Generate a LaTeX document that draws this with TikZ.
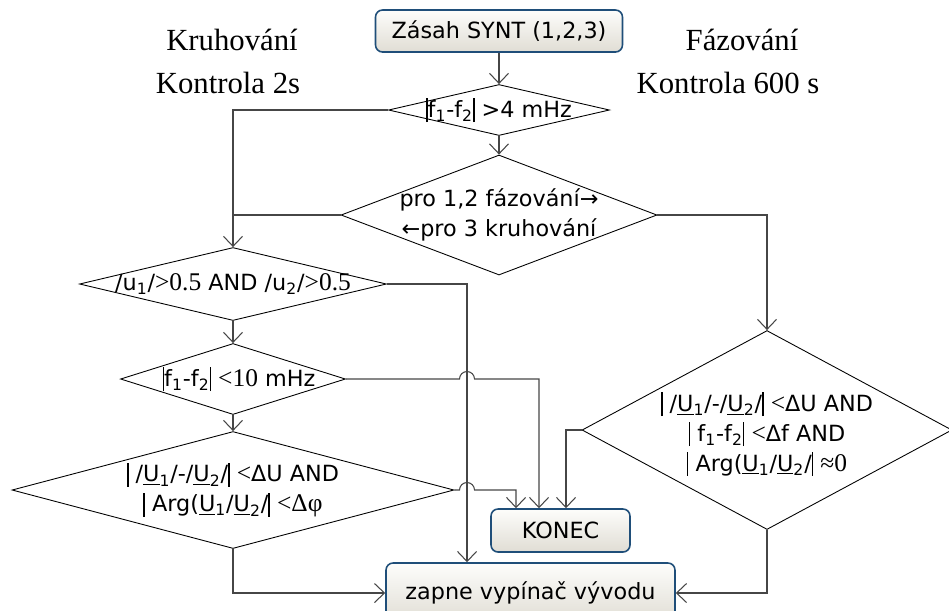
\documentclass[tikz,border=0pt]{standalone}
\usepackage{fontspec}
\setmainfont{DejaVu Sans}
\newfontfamily\tnr{Liberation Serif}
\usetikzlibrary{shapes.geometric,arrows.meta,calc}
\definecolor{boxblue}{RGB}{31,78,121}
\definecolor{boxtop}{RGB}{253,253,251}
\definecolor{boxbot}{RGB}{224,221,212}
\definecolor{linegray}{RGB}{70,70,70}
\newcommand{\absbar}{\rule[-0.22em]{0.07em}{1.08em}}
\newcommand{\Uu}[1]{\underline{U}\textsubscript{#1}}
\newcommand{\sym}[1]{{\tnr\fontsize{14.5pt}{17pt}\selectfont #1}}

\tikzset{
	every picture/.append style={font=\fontsize{12.7pt}{17pt}\selectfont},
	mybox/.style = {rectangle, rounded corners=0.14cm, draw=boxblue, line width=0.9pt, top color=boxtop, bottom color=boxbot, inner sep=0pt},
	mydec/.style = {diamond, draw=black, line width=0.5pt, inner sep=0pt},
	mytext/.style = {align=center},
	mylabel/.style = {font=\tnr\fontsize{17.5pt}{21pt}\selectfont, anchor=base},
	myedge/.style = {draw=linegray, line width=0.6pt, -{Straight Barb[length=0.2cm,width=0.38cm]}},
	myline/.style = {draw=linegray, line width=0.6pt}
}

\begin{document}
\begin{tikzpicture}[x=0.02cm,y=-0.02cm]
				\useasboundingbox (0,0) rectangle (949,610);
				\node[mybox, minimum width=4.94cm, minimum height=0.84cm] at (499,31) (start) {Zásah SYNT (1,2,3)};
				\node[mydec, minimum width=4.42cm, minimum height=1.02cm] at (499,110) (d1) {};
				\node[mydec, minimum width=6.32cm, minimum height=2.4cm] at (499,215) (d2) {};
				\node[mydec, minimum width=6.14cm, minimum height=1.46cm] at (233,284) (d3) {};
				\node[mydec, minimum width=4.5cm, minimum height=1.42cm] at (233,379) (d4) {};
				\node[mydec, minimum width=8.84cm, minimum height=2.34cm] at (233,490) (d5) {};
				\node[mydec, minimum width=7.4cm, minimum height=3.98cm] at (767,430) (d6) {};
				\node[mybox, minimum width=2.78cm, minimum height=0.86cm] at (560.5,530.5) (konec) {KONEC};
				\node[mybox, minimum width=5.78cm, minimum height=1.2cm] at (530.5,593) (zapne) {zapne vypínač vývodu};
				\node[mylabel] at (232,50) (kruh) {Kruhování};
				\node[mylabel] at (228,93) (kon2) {Kontrola 2s};
				\node[mylabel] at (742,50) (faz) {Fázování};
				\node[mylabel] at (728,93) (kon600) {Kontrola 600 s};
				\node[mytext] at (d1) (t1) {\absbar f\textsubscript{1}-f\textsubscript{2}\absbar\ >4 mHz};
				\node[mytext] at (d2) (t2) {pro 1,2 fázování→\\←pro 3 kruhování};
				\node[mytext] at (d3) (t3) {/u\textsubscript{1}/\sym{>0.5} AND /u\textsubscript{2}/\sym{>0.5}};
				\node[mytext, xshift=0.12cm] at (d4) (t4) {\absbar f\textsubscript{1}-f\textsubscript{2}\absbar\ \sym{<10} mHz};
				\node[mytext] at (d5) (t5) {\absbar\ /\Uu{1}/-/\Uu{2}/\absbar\ \sym{<}ΔU AND\\\absbar\ Arg(\Uu{1}/\Uu{2}/\absbar\ \sym{<Δφ}};
				\node[mytext, yshift=-0.08cm] at (d6) (t6) {\absbar\ /\Uu{1}/-/\Uu{2}/\absbar\ \sym{<}ΔU AND\\\absbar\ f\textsubscript{1}-f\textsubscript{2}\absbar\ \sym{<}Δf AND\\\absbar\ Arg(\Uu{1}/\Uu{2}/\absbar\ \sym{≈0}};
				\coordinate (bus) at ([xshift=-1.27cm]zapne.north);
				\path (start.south) edge [myedge] (d1.north);
				\path (d1.south) edge [myedge] (d2.north);
				\path (d3.south) edge [myedge] (d4.north);
				\path (d4.south) edge [myedge] (d5.north);
				\draw[myedge] (d1.west) -| (d3.north);
				\draw[myline] (d2.west) -- (d2.west -| d3.north);
				\draw[myedge] (d2.east) -| (d6.north);
				\draw[myedge] (d3.east) -| (bus);
				\draw[myedge] (d4.east) -- ($(bus |- d4.east)+(-7.5,0)$) arc[start angle=180, end angle=0, radius=0.15cm] -| ([xshift=-0.43cm]konec.north);
				\draw[myedge] (d5.east) -- ($(bus |- d5.east)+(-7.5,0)$) arc[start angle=180, end angle=0, radius=0.15cm] -| ([xshift=-0.89cm]konec.north);
				\draw[myedge] (d6.west) -| ([xshift=0.11cm]konec.north);
				\draw[myedge] (d5.south) |- (zapne.west);
				\draw[myedge] (d6.south) |- (zapne.east);
			\end{tikzpicture}
\end{document}
